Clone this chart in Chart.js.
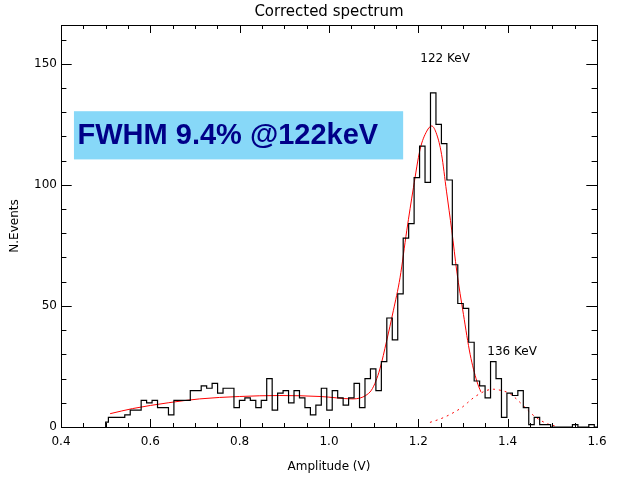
<!DOCTYPE html>
<html>
<head>
<meta charset="utf-8">
<title>Corrected spectrum</title>
<script src="https://cdn.jsdelivr.net/npm/chart.js@4.4.0/dist/chart.umd.min.js"></script>
<style>
  html, body { margin: 0; padding: 0; background: #fff; }
  #wrap { width: 618px; height: 478px; }
</style>
</head>
<body>
<div id="wrap"><canvas id="spectrumChart" width="618" height="478"></canvas></div>
<script>
// histogram bins: 91 bins, centres from 0.5 V to 1.6 V
binStart = 0.5;
binWidth = 1.1 / 90;
counts = [
  2, 4, 4, 4, 5, 7, 7, 11, 10, 11, 8, 8, 5, 11, 11, 11, 15, 15, 17, 16, 18, 14, 16, 16, 8,
  11, 12, 11, 8, 11, 20, 7, 14, 15, 10, 15, 12, 8, 5, 9, 16, 7, 15, 12, 9, 12, 18, 8, 20,
  24, 15, 27, 45, 36, 55, 78, 84, 103, 116, 101, 138, 125, 117, 102, 67, 51, 49, 35, 19, 17,
  12, 27, 20, 4, 14, 13, 15, 8, 1, 4, 1, 1, 0, 0, 0, 0, 1, 0, 0, 1, 0
];
binCenters = counts.map((c, i) => binStart + i * binWidth);

// fit: background + 122 keV line
fitX = [0.51, 0.56, 0.64, 0.71, 0.80, 0.89, 0.98, 1.054, 1.07, 1.082, 1.095, 1.105, 1.114,
  1.129, 1.144, 1.159, 1.174, 1.189, 1.204, 1.219, 1.230, 1.241, 1.252, 1.263, 1.275,
  1.286, 1.301, 1.316, 1.331, 1.34];
fitY = [5.5, 7.6, 10.0, 11.6, 12.6, 13.0, 12.6, 11.6, 12.0, 13.0, 15.2, 19, 24,
  35.5, 48, 61.6, 81, 98.8, 114.7, 122.2, 124.3, 120.9, 112.6, 97.4, 81,
  64.4, 46.5, 30, 18.9, 14.5];

// 136 keV line alone
tailX = [1.226, 1.25, 1.267, 1.283, 1.297, 1.31, 1.323, 1.338, 1.353, 1.368, 1.383, 1.405,
  1.42, 1.435, 1.448, 1.461, 1.475, 1.491, 1.505];
tailY = [1.9, 3.4, 4.8, 6.4, 8, 10, 12, 13.8, 15.1, 15.6, 15.2, 13.8,
  11.5, 8.8, 6.4, 4.3, 2.6, 1.2, 0.5];

xTickValues = [0.4, 0.6, 0.8, 1.0, 1.2, 1.4, 1.6];
xTickLabels = ['0.4', '0.6', '0.8', '1.0', '1.2', '1.4', '1.6'];
yTickValues = [0, 50, 100, 150];
yTickLabels = ['0', '50', '100', '150'];

font = 'DejaVu Sans';

function toPoints(xs, ys) {
  return xs.map((x, i) => ({ x: x, y: ys[i] }));
}

// box with inward ticks on all four sides, IDL style
frameTicks = {
  id: 'frameTicks',
  afterDraw(chart) {
    const { ctx, chartArea: a, scales: { x, y } } = chart;
    ctx.save();
    ctx.strokeStyle = '#000';
    ctx.lineWidth = 1;
    ctx.strokeRect(a.left + 0.5, a.top + 0.5, a.right - a.left, a.bottom - a.top);
    ctx.beginPath();
    for (let k = 0; k <= 24; k++) {
      const v = 0.4 + k * 0.05;
      const len = k % 4 === 0 ? 8 : 4;
      const px = Math.round(x.getPixelForValue(v)) + 0.5;
      ctx.moveTo(px, a.bottom); ctx.lineTo(px, a.bottom - len);
      ctx.moveTo(px, a.top); ctx.lineTo(px, a.top + len);
    }
    for (let v = 0; v <= y.max; v += 10) {
      const len = v % 50 === 0 ? 10.7 : 5.4;
      const py = Math.round(y.getPixelForValue(v)) + 0.5;
      ctx.moveTo(a.left, py); ctx.lineTo(a.left + len, py);
      ctx.moveTo(a.right, py); ctx.lineTo(a.right - len, py);
    }
    ctx.stroke();
    ctx.restore();
  }
};

// title, FWHM box and peak labels
spectrumLabels = {
  id: 'spectrumLabels',
  beforeDatasetsDraw(chart) {
    const { ctx, scales: { x, y } } = chart;
    const x0 = x.getPixelForValue(0.429), x1 = x.getPixelForValue(1.166);
    const y0 = y.getPixelForValue(130.4), y1 = y.getPixelForValue(110.5);
    ctx.save();
    ctx.fillStyle = 'rgb(135, 216, 248)';
    ctx.fillRect(x0, y0, x1 - x0, y1 - y0);
    ctx.fillStyle = '#000088';
    ctx.font = 'bold 29px "Liberation Sans", Arial, sans-serif';
    ctx.textBaseline = 'middle';
    ctx.textAlign = 'left';
    ctx.fillText('FWHM 9.4% @122keV', x.getPixelForValue(0.437), (y0 + y1) / 2 + 1);
    ctx.restore();
  },
  afterDraw(chart) {
    const { ctx, chartArea: a, scales: { x, y } } = chart;
    ctx.save();
    ctx.fillStyle = '#000';
    ctx.textAlign = 'center';
    ctx.textBaseline = 'middle';
    ctx.font = '15px "' + font + '"';
    ctx.fillText('Corrected spectrum', (a.left + a.right) / 2, 12);
    ctx.font = '12px "' + font + '"';
    ctx.fillText('122 KeV', x.getPixelForValue(1.26), y.getPixelForValue(152));
    ctx.fillText('136 KeV', x.getPixelForValue(1.41), y.getPixelForValue(31));
    ctx.restore();
  }
};

spectrumChart = new Chart(document.getElementById('spectrumChart'), {
  type: 'line',
  data: {
    datasets: [
      {
        label: 'N.Events',
        data: [{ x: binCenters[0], y: 0 }].concat(toPoints(binCenters, counts)),
        stepped: 'middle',
        borderColor: '#000',
        borderWidth: 1.2,
        pointRadius: 0,
        fill: false,
      },
      {
        label: 'fit',
        data: toPoints(fitX, fitY),
        borderColor: '#ff0000',
        borderWidth: 1,
        pointRadius: 0,
        cubicInterpolationMode: 'monotone',
        fill: false,
      },
      {
        label: '136 keV',
        data: toPoints(tailX, tailY),
        borderColor: '#ff0000',
        borderWidth: 1,
        borderDash: [2, 4],
        pointRadius: 0,
        cubicInterpolationMode: 'monotone',
        fill: false,
      },
    ],
  },
  options: {
    responsive: false,
    animation: false,
    devicePixelRatio: 1,
    layout: { padding: { left: 0, right: 21, top: 25, bottom: 0 } },
    plugins: {
      legend: { display: false },
      tooltip: { enabled: false },
      title: { display: false },
    },
    scales: {
      x: {
        type: 'linear',
        min: 0.4,
        max: 1.6,
        grid: { display: false, drawTicks: false },
        border: { display: false },
        afterBuildTicks: (s) => { s.ticks = xTickValues.map((v) => ({ value: v })); },
        afterFit: (s) => { s.height = 51; },
        ticks: {
          callback: (v, i) => xTickLabels[i],
          padding: 8,
          maxRotation: 0,
          autoSkip: false,
          color: '#000',
          font: { family: font, size: 12 },
        },
        title: {
          display: true,
          text: 'Amplitude (V)',
          color: '#000',
          font: { family: font, size: 12 },
          padding: { top: 0, bottom: 4 },
        },
      },
      y: {
        min: 0,
        max: 166,
        grid: { display: false, drawTicks: false },
        border: { display: false },
        afterBuildTicks: (s) => { s.ticks = yTickValues.map((v) => ({ value: v })); },
        afterFit: (s) => { s.width = 61; },
        ticks: {
          callback: (v, i) => yTickLabels[i],
          padding: 4,
          color: '#000',
          font: { family: font, size: 12 },
        },
        title: {
          display: true,
          text: 'N.Events',
          color: '#000',
          font: { family: font, size: 12 },
          padding: { top: 8, bottom: 0 },
        },
      },
    },
  },
  plugins: [frameTicks, spectrumLabels],
});
</script>
</body>
</html>
